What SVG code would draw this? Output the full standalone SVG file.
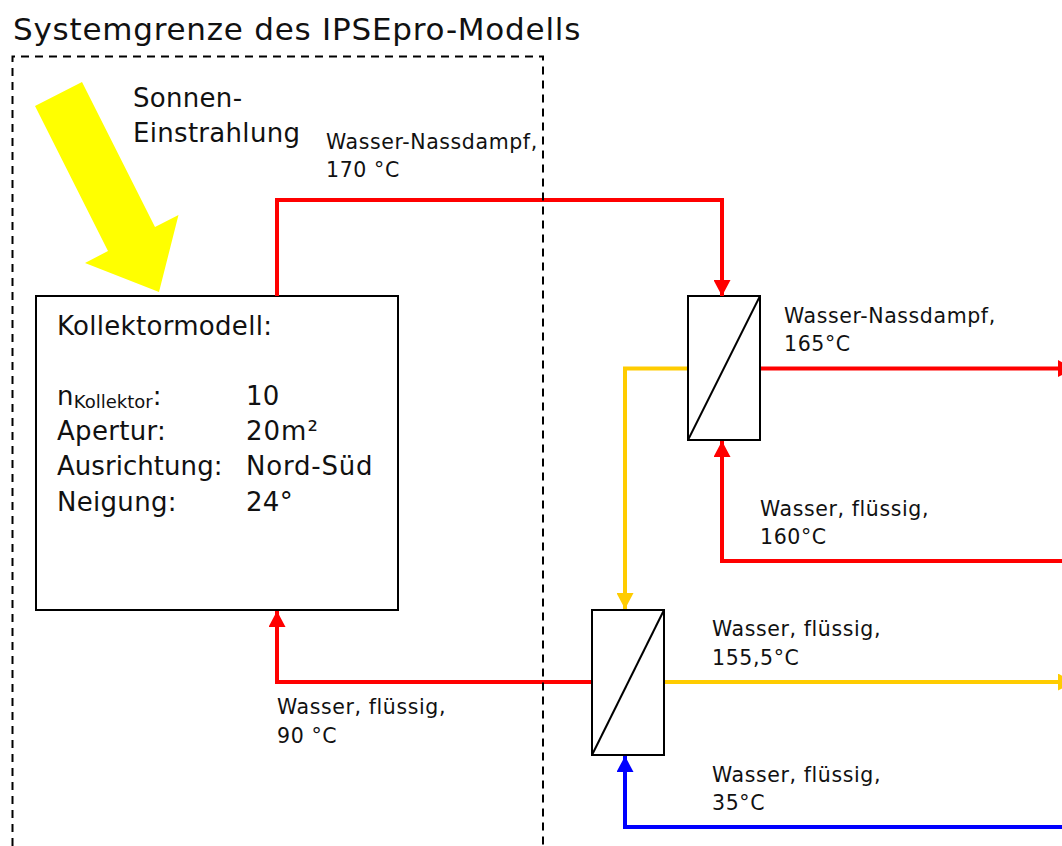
<svg xmlns="http://www.w3.org/2000/svg" width="1062" height="846" viewBox="0 0 1062 846">
<style>
text{font-family:"DejaVu Sans",Verdana,sans-serif;fill:#111}
.t{font-size:31px;letter-spacing:.77px}.m{font-size:26px;letter-spacing:.3px}.s{font-size:20.500px;letter-spacing:.6px}.u{font-size:18px;letter-spacing:0}
.box{fill:#fff;stroke:#000;stroke-width:2}
.dia{fill:none;stroke:#000;stroke-width:2}
.c{fill:none;stroke-width:4}
.r{stroke:#f00}.y{stroke:#fc0}.b{stroke:#00f}
</style>
<defs>
<marker id="ar" markerUnits="userSpaceOnUse" markerWidth="16" markerHeight="17" refX="16" refY="8.500" orient="auto" viewBox="0 0 16 17"><path d="M0 0L16 8.500L0 17z" fill="#f00"/></marker>
<marker id="ay" markerUnits="userSpaceOnUse" markerWidth="16" markerHeight="17" refX="16" refY="8.500" orient="auto" viewBox="0 0 16 17"><path d="M0 0L16 8.500L0 17z" fill="#fc0"/></marker>
<marker id="ab" markerUnits="userSpaceOnUse" markerWidth="16" markerHeight="17" refX="16" refY="8.500" orient="auto" viewBox="0 0 16 17"><path d="M0 0L16 8.500L0 17z" fill="#00f"/></marker>
</defs>
<rect width="1062" height="846" fill="#fff"/>
<text class="t" x="13" y="40">Systemgrenze des IPSEpro-Modells</text>
<g id="sun"><polygon points="82,82 35,106 108,251 85,263 159,292 178.500,215 155,227" fill="#ff0"/>
<text class="m" x="133" y="107">Sonnen-</text><text class="m" x="133" y="142">Einstrahlung</text></g>
<g id="collector"><rect class="box" x="36" y="296" width="362" height="314"/>
<text class="m" x="57" y="335">Kollektormodell:</text>
<text class="m" x="57" y="405">n<tspan class="u" dy="3">Kollektor</tspan><tspan dy="-3">:</tspan></text><text class="m" x="246" y="405">10</text>
<text class="m" x="57" y="440">Apertur:</text><text class="m" x="246" y="440" style="letter-spacing:1px">20m²</text>
<text class="m" x="57" y="475" style="letter-spacing:.05px">Ausrichtung:</text><text class="m" x="246" y="475" style="letter-spacing:.8px">Nord-Süd</text>
<text class="m" x="57" y="511">Neigung:</text><text class="m" x="246" y="511">24°</text></g>
<g id="hx1"><rect class="box" x="688" y="296" width="72" height="144"/><path class="dia" d="M688 440L760 296"/></g>
<g id="hx2"><rect class="box" x="592" y="610" width="72" height="145"/><path class="dia" d="M592 755L664 610"/></g>
<g id="connectors">
<path class="c r" marker-end="url(#ar)" d="M277 296V200H722V296"/>
<path class="c r" marker-end="url(#ar)" d="M761 368.500H1074"/>
<path class="c r" marker-end="url(#ar)" d="M1070 561H722V441"/>
<path class="c y" marker-end="url(#ay)" d="M687 368.500H625V609"/>
<path class="c y" marker-end="url(#ay)" d="M665 682H1074"/>
<path class="c r" marker-end="url(#ar)" d="M591 682H277V611"/>
<path class="c b" marker-end="url(#ab)" d="M1070 827H625V756"/>
</g>
<g id="boundary"><path d="M12.500 846V56.500H543V846" fill="none" stroke="#000" stroke-width="2" stroke-dasharray="8 6"/></g>
<g id="labels">
<text class="s" x="326" y="149">Wasser-Nassdampf,</text><text class="s" x="326" y="177">170 °C</text>
<text class="s" x="784" y="323">Wasser-Nassdampf,</text><text class="s" x="784" y="351">165°C</text>
<text class="s" x="760" y="516">Wasser, flüssig,</text><text class="s" x="760" y="544">160°C</text>
<text class="s" x="712" y="636">Wasser, flüssig,</text><text class="s" x="712" y="665">155,5°C</text>
<text class="s" x="712" y="782">Wasser, flüssig,</text><text class="s" x="712" y="810">35°C</text>
<text class="s" x="277" y="714">Wasser, flüssig,</text><text class="s" x="277" y="743">90 °C</text>
</g>
</svg>
